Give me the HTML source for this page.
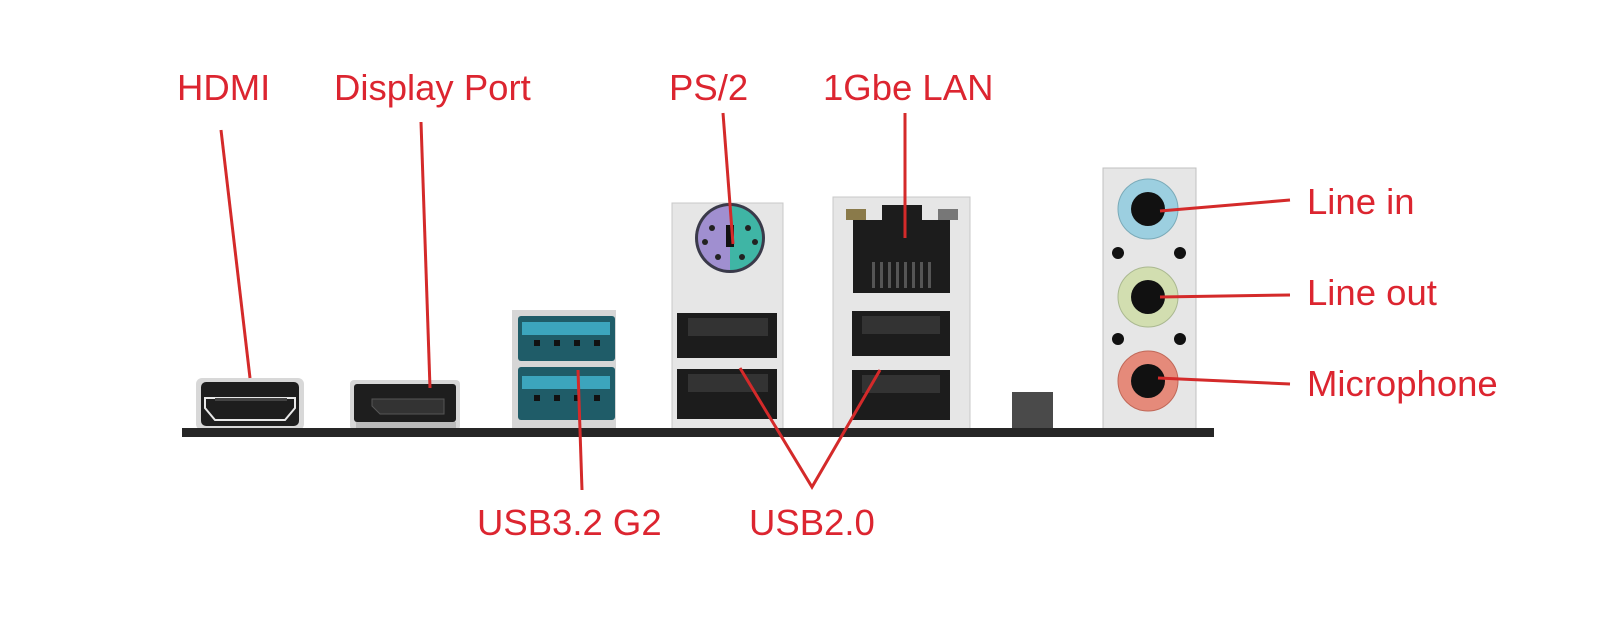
<!DOCTYPE html>
<html><head><meta charset="utf-8"><style>
html,body{margin:0;padding:0;background:#fff;}
svg{display:block;}
text{font-family:"Liberation Sans",sans-serif;font-size:36.5px;fill:#dc2530;}
</style></head><body>
<svg width="1600" height="637" viewBox="0 0 1600 637" xmlns="http://www.w3.org/2000/svg">
<!-- HDMI -->
<rect x="196" y="378" width="108" height="52" rx="6" fill="#d8d8d8"/>
<rect x="201" y="382" width="98" height="44" rx="5" fill="#1e1e1e"/>
<path d="M205 398 H295 V408 L285 420 H215 L205 408 Z" fill="none" stroke="#e8e8e8" stroke-width="2"/>
<rect x="215" y="398" width="72" height="3" fill="#444"/>
<!-- DP -->
<rect x="350" y="380" width="110" height="50" rx="4" fill="#d8d8d8"/>
<rect x="354" y="384" width="102" height="38" rx="3" fill="#1e1e1e"/>
<path d="M372 399 H444 V414 H380 L372 406 Z" fill="#333" stroke="#555"/>
<rect x="356" y="422" width="100" height="6" fill="#bbb"/>
<!-- USB3 -->
<rect x="512" y="310" width="104" height="120" fill="#d6d6d6"/>
<rect x="518" y="316" width="97" height="45" rx="3" fill="#1f5c68"/>
<rect x="522" y="322" width="88" height="13" fill="#3ca5bd"/>
<rect x="518" y="367" width="97" height="53" rx="3" fill="#1f5c68"/>
<rect x="522" y="376" width="88" height="13" fill="#3ca5bd"/>
<g fill="#111"><rect x="534" y="340" width="6" height="6"/><rect x="554" y="340" width="6" height="6"/><rect x="574" y="340" width="6" height="6"/><rect x="594" y="340" width="6" height="6"/>
<rect x="534" y="395" width="6" height="6"/><rect x="554" y="395" width="6" height="6"/><rect x="574" y="395" width="6" height="6"/><rect x="594" y="395" width="6" height="6"/></g>
<!-- PS/2 block -->
<rect x="672" y="203" width="111" height="227" fill="#e6e6e6" stroke="#c8c8c8"/>
<circle cx="730" cy="238" r="35" fill="#3a3a4a"/>
<path d="M730 206 A32 32 0 0 0 730 270 Z" fill="#a08fd0"/>
<path d="M730 206 A32 32 0 0 1 730 270 Z" fill="#3fb5a5"/>
<rect x="726" y="225" width="8" height="22" fill="#111"/>
<g fill="#222"><circle cx="712" cy="228" r="3"/><circle cx="748" cy="228" r="3"/><circle cx="705" cy="242" r="3"/><circle cx="755" cy="242" r="3"/><circle cx="718" cy="257" r="3"/><circle cx="742" cy="257" r="3"/></g>
<rect x="677" y="313" width="100" height="45" fill="#1c1c1c"/>
<rect x="688" y="318" width="80" height="18" fill="#333"/>
<rect x="677" y="369" width="100" height="50" fill="#1c1c1c"/>
<rect x="688" y="374" width="80" height="18" fill="#333"/>
<!-- LAN block -->
<rect x="833" y="197" width="137" height="233" fill="#e6e6e6" stroke="#c8c8c8"/>
<rect x="853" y="220" width="97" height="73" fill="#1c1c1c"/>
<rect x="882" y="205" width="40" height="18" fill="#1c1c1c"/>
<rect x="846" y="209" width="20" height="11" fill="#8a7a4a"/>
<rect x="938" y="209" width="20" height="11" fill="#777"/>
<g fill="#555"><rect x="872" y="262" width="3" height="26"/><rect x="880" y="262" width="3" height="26"/><rect x="888" y="262" width="3" height="26"/><rect x="896" y="262" width="3" height="26"/><rect x="904" y="262" width="3" height="26"/><rect x="912" y="262" width="3" height="26"/><rect x="920" y="262" width="3" height="26"/><rect x="928" y="262" width="3" height="26"/></g>
<rect x="852" y="311" width="98" height="45" fill="#1c1c1c"/>
<rect x="862" y="316" width="78" height="18" fill="#333"/>
<rect x="852" y="370" width="98" height="50" fill="#1c1c1c"/>
<rect x="862" y="375" width="78" height="18" fill="#333"/>
<!-- small square -->
<rect x="1012" y="392" width="41" height="38" fill="#4a4a4a"/>
<!-- audio panel -->
<rect x="1103" y="168" width="93" height="262" fill="#e6e6e6" stroke="#c0c0c0"/>
<circle cx="1148" cy="209" r="30" fill="#9ccfe0" stroke="#7aaab8"/>
<circle cx="1148" cy="209" r="17" fill="#111"/>
<circle cx="1148" cy="297" r="30" fill="#d2deb0" stroke="#aab890"/>
<circle cx="1148" cy="297" r="17" fill="#111"/>
<circle cx="1148" cy="381" r="30" fill="#e58a7a" stroke="#c06858"/>
<circle cx="1148" cy="381" r="17" fill="#111"/>
<g fill="#111"><circle cx="1118" cy="253" r="6"/><circle cx="1180" cy="253" r="6"/><circle cx="1118" cy="339" r="6"/><circle cx="1180" cy="339" r="6"/></g>
<!-- bar -->
<rect x="182" y="428" width="1032" height="9" fill="#262626"/>
<!-- leader lines -->
<g stroke="#d42a2a" stroke-width="3" fill="none">
<line x1="221" y1="130" x2="250" y2="378"/>
<line x1="421" y1="122" x2="430" y2="388"/>
<line x1="578" y1="370" x2="582" y2="490"/>
<line x1="723" y1="113" x2="733" y2="244"/>
<line x1="905" y1="113" x2="905" y2="238"/>
<polyline points="740,368 812,487 880,370"/>
<line x1="1160" y1="211" x2="1290" y2="200"/>
<line x1="1160" y1="297" x2="1290" y2="295"/>
<line x1="1158" y1="378" x2="1290" y2="384"/>
</g>
<text x="177" y="100">HDMI</text>
<text x="334" y="100">Display Port</text>
<text x="669" y="100">PS/2</text>
<text x="823" y="100">1Gbe LAN</text>
<text x="1307" y="214">Line in</text>
<text x="1307" y="305">Line out</text>
<text x="1307" y="396">Microphone</text>
<text x="477" y="535">USB3.2 G2</text>
<text x="749" y="535">USB2.0</text>
</svg>
</body></html>
